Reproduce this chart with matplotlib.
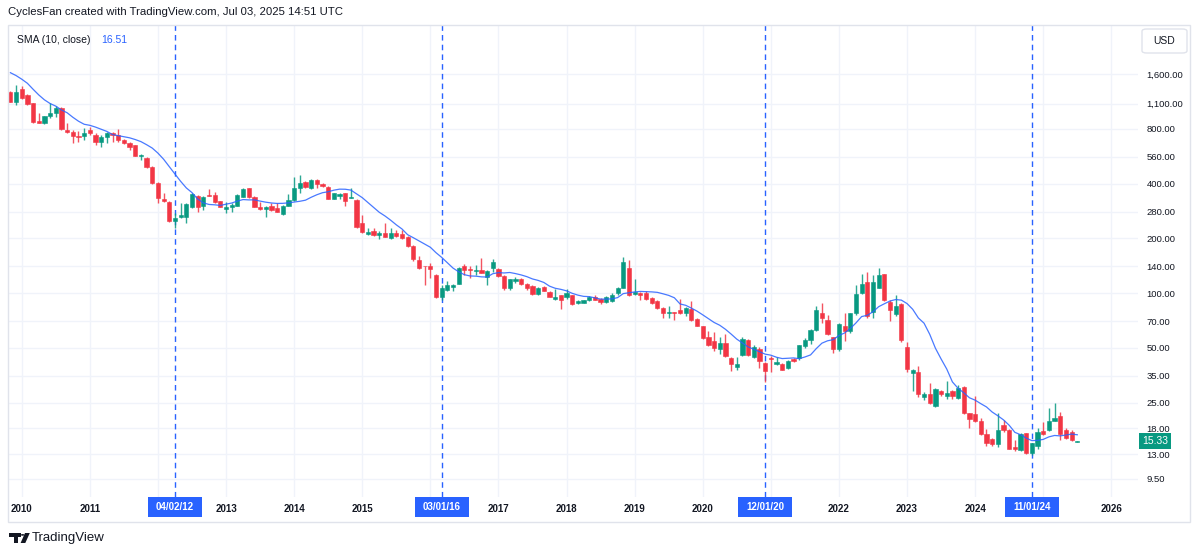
import numpy as np
import pandas as pd
import matplotlib
matplotlib.use('Agg')
import matplotlib.pyplot as plt
from matplotlib.patches import Rectangle, FancyBboxPatch, Polygon, Circle
from matplotlib.ticker import NullLocator
from matplotlib.transforms import blended_transform_factory

plt.rcParams['font.family'] = ['Liberation Sans', 'DejaVu Sans']

# monthly candles, Nov 2009 .. Jul 2025
months = pd.period_range('2009-11', '2025-07', freq='M')

opens = [1279, 1127, 1323, 1226, 1103, 882, 857, 944, 980, 1036,
         788, 771, 733, 730, 788, 741, 679, 718, 760, 741,
         698, 671, 651, 567, 552, 495, 404, 330, 318, 249,
         263, 261, 296, 342, 302, 346, 346, 320, 290, 298,
         302, 339, 376, 339, 298, 289, 302, 292, 272, 302,
         325, 376, 406, 376, 419, 398, 384, 329, 342, 353,
         333, 325, 243, 211, 220, 209, 215, 200, 215, 211,
         203, 181, 151, 141, 140, 125, 95.6, 104.5, 108, 112,
         140, 136, 132, 133, 123, 137.7, 136, 124.5, 106.6, 117,
         119, 112, 109, 98.5, 108, 101.6, 92.4, 97.5, 95.6, 97.5,
         88, 88, 91, 94.5, 93, 89, 90, 99.5, 107, 137.7,
         99, 100, 100, 94, 90.6, 82.5, 77.3, 78.7, 80.8, 77.3,
         81.4, 72, 65.8, 57.2, 54.3, 49.1, 53.2, 43.8, 39.3, 45.7,
         55.3, 44.7, 49.5, 41.3, 44, 40.7, 40.8, 38.8, 43.5, 43.7,
         51.3, 54.9, 62.9, 78, 70.8, 57.2, 49.1, 66, 61.6, 77.3,
         100, 114.5, 78.3, 107, 126.5, 89.8, 76.3, 86.8, 50.7, 36.4,
         36.8, 26.9, 27.8, 23.9, 29, 27.1, 29, 26.6, 30.4, 21.8,
         21.7, 19.9, 16.8, 15.7, 14.8, 18.7, 17.6, 14.2, 13.7, 16.9,
         13.2, 14.4, 17.5, 17.7, 19.9, 21.0, 17.6, 17.2, 15.2]

highs = [1293, 1392, 1376, 1240, 1110, 980, 945, 1113, 1067, 1060,
         865, 788, 781, 805, 814, 760, 741, 771, 771, 795,
         705, 679, 655, 578, 556, 500, 409, 356, 322, 275,
         314, 314, 355, 345, 340, 372, 361, 322, 318, 314,
         350, 378, 380, 342, 318, 300, 314, 314, 305, 349,
         436, 444, 415, 422, 422, 404, 390, 355, 353, 355,
         376, 330, 269, 227, 227, 220, 244, 227, 222, 222,
         206, 183, 160, 141, 146, 128, 111, 116.6, 112.5, 139,
         144, 140, 142.5, 155, 134, 153, 138, 126, 120, 123,
         121, 113, 110, 108, 109, 103, 105.5, 98, 105.5, 98,
         92, 92, 96, 97, 94, 96, 100, 108, 158.5, 152,
         118.8, 101, 102, 95, 92, 83.5, 85.2, 79, 92.8, 83.5,
         90, 73, 66, 61.6, 61, 57.3, 59.2, 44.5, 44.7, 57,
         56, 51.5, 50.5, 42, 45.3, 44.7, 41, 43, 44, 52,
         56.8, 63.5, 84.6, 88.4, 76, 57.5, 68.5, 78, 78, 111,
         126.5, 130, 125, 137, 127, 91, 97.5, 88, 53.6, 38,
         39.9, 28.5, 31.9, 30, 29.3, 32.9, 29.3, 31.3, 31, 22,
         27.2, 20.5, 17.9, 16, 21.8, 20.0, 17.8, 15.5, 17, 17,
         15, 18.1, 19.6, 23.4, 24.9, 22.2, 18, 17.6, 15.4]

lows = [1120, 1081, 1170, 1080, 860, 857, 850, 913, 925, 790,
        760, 666, 679, 698, 741, 651, 638, 671, 679, 679,
        660, 611, 565, 538, 485, 400, 314, 318, 247, 227,
        259, 242, 292, 280, 286, 340, 314, 296, 276, 280,
        300, 336, 334, 296, 286, 263, 284, 278, 269, 300,
        322, 356, 378, 374, 376, 383, 327, 327, 328, 302,
        333, 228, 215, 209, 206, 197, 203, 198, 203, 198,
        180, 150, 135, 111, 121, 94, 92, 103, 103, 112,
        125, 121, 125, 129, 110, 131, 123, 104, 104, 113,
        111, 104, 97, 97, 102, 95, 91, 81.4, 93, 86,
        87, 88, 90, 91, 87, 88, 89, 98, 106, 96,
        98, 91, 92, 87, 82, 72.6, 72.6, 70.8, 77, 74.5,
        70.5, 65.5, 56, 51, 48, 46, 44.5, 37.2, 37.9, 45,
        45, 44, 38.8, 32.3, 36.7, 40, 37.5, 38, 41.5, 43,
        50, 52.7, 62, 68.6, 59, 46.8, 48, 54.3, 60, 76,
        99, 72.6, 72.6, 106, 90, 70, 75, 54, 36.9, 28.9,
        26.8, 25.9, 24.5, 23.5, 27, 26.3, 26, 26, 21.5, 18.2,
        19.5, 16.5, 14.5, 14.4, 14.3, 17.3, 13.8, 13.6, 13.5, 13,
        12.9, 13.9, 16.5, 17.5, 19.8, 15.5, 15.8, 15.4, 15.1]

closes = [1127, 1270, 1177, 1089, 868, 865, 940, 973, 1044, 798,
          771, 730, 724, 755, 755, 679, 718, 760, 741, 698,
          666, 638, 569, 574, 495, 404, 332, 322, 249, 260,
          269, 309, 350, 296, 339, 342, 318, 298, 298, 305,
          346, 372, 336, 298, 289, 298, 286, 280, 302, 325,
          379, 401, 381, 419, 398, 389, 329, 353, 350, 321,
          339, 231, 216, 217, 209, 214, 203, 215, 206, 200,
          181, 153, 137, 140, 136, 95, 107, 111, 111, 137,
          134, 133, 134, 129, 132.9, 147.8, 124.5, 105.9, 118.8, 119,
          112.5, 106, 98.6, 107, 103, 95.6, 95.6, 91.3, 99.5, 87,
          90, 91, 95.3, 91.5, 89, 95.6, 98, 106.6, 148.6, 97.5,
          100.7, 97.5, 92.9, 88, 83, 77.3, 78.3, 77.8, 77.8, 82.5,
          71, 66.1, 56.8, 51.8, 49.6, 53.2, 45.3, 40.7, 40.8, 55.7,
          45.7, 50.6, 42.5, 37.2, 43.5, 41.5, 37.9, 42.5, 42.5, 51.8,
          54.9, 62.5, 80.2, 72.6, 59.8, 49.3, 67.7, 61.7, 77.3, 98.6,
          112.5, 74.6, 114.5, 125, 91.3, 80.5, 84.6, 55.1, 38.2, 37.5,
          27.8, 28.0, 24.9, 29.5, 28, 28.3, 27.1, 29.9, 21.8, 20.2,
          19.9, 16.8, 14.9, 14.8, 17.7, 17.6, 13.95, 13.8, 16.7, 13.2,
          14.9, 17.3, 16.8, 19.9, 20.6, 16.7, 15.9, 15.6, 15.33]

# closes before Nov 2009, only needed to warm up the SMA
pre_closes = [1850, 1880, 1850, 1900, 1780, 1680, 1500, 1400, 1300]

price_ticks = [1600, 1100, 800, 560, 400, 280, 200, 140, 100, 70, 50, 35, 25, 18, 13, 9.5]
years = list(range(2010, 2027))
hidden_years = [2012, 2016, 2021, 2025]
marks = [('2012-04', '04/02/12'), ('2016-03', '03/01/16'),
         ('2020-12', '12/01/20'), ('2024-11', '11/01/24')]

GREEN = '#089981'
RED = '#f23645'
BLUE = '#2962ff'
TXT = '#131722'
GRID = '#f0f3fa'

W, H = 1200, 555


def fx(px):
    return px / W


def fy(py):
    return 1 - py / H


fig = plt.figure(figsize=(W / 100, H / 100), dpi=100)
fig.patch.set_facecolor('white')

ax = fig.add_axes([fx(8), fy(497), fx(1138) - fx(8), fy(25) - fy(497)])
ax.set_facecolor('white')

o = np.array(opens, dtype=float)
h = np.array(highs, dtype=float)
l = np.array(lows, dtype=float)
c = np.array(closes, dtype=float)
idx = np.arange(len(months))
up = c >= o
cols = np.where(up, GREEN, RED)

ax.vlines(idx, l, h, colors=cols, lw=1, alpha=0.85, zorder=3)
ax.bar(idx, np.abs(c - o), bottom=np.minimum(o, c), width=0.74,
       color=cols, edgecolor=cols, lw=0.4, zorder=4)

allc = pd.Series(pre_closes + closes, dtype=float)
sma = allc.rolling(10).mean().values[len(pre_closes):]
ax.plot(idx, sma, color=BLUE, lw=0.9, alpha=0.85, zorder=5)

ax.set_yscale('log')
ax.set_ylim(7.56, 2975)
ax.set_xlim(-0.42, 198.7)

ax.yaxis.tick_right()
ax.set_yticks(price_ticks)
ax.set_yticklabels([f'{v:,.2f}' for v in price_ticks])
ax.yaxis.set_minor_locator(NullLocator())

year_idx = [(y - 2009) * 12 - 10 for y in years]
ax.set_xticks(year_idx)
ax.set_xticklabels(['' if y in hidden_years else str(y) for y in years],
                   fontweight='bold')
ax.tick_params(axis='y', length=0, pad=6, labelsize=6.8, labelcolor=TXT)
ax.tick_params(axis='x', length=0, pad=5, labelsize=7, labelcolor=TXT)
ax.grid(True, color=GRID, lw=1, zorder=0)
ax.set_axisbelow(True)
for s in ax.spines.values():
    s.set_visible(False)

# vertical dated markers
trans = blended_transform_factory(ax.transData, ax.transAxes)
box_h = 20 / 472
for per, lab in marks:
    i = months.get_loc(pd.Period(per, 'M'))
    ax.axvline(i, color=BLUE, lw=1, ls=(0, (4, 3)), zorder=2)
    ax.add_patch(Rectangle((i - 4.75, -box_h), 9.5, box_h, transform=trans,
                           facecolor=BLUE, edgecolor='none', clip_on=False, zorder=6))
    ax.text(i, -box_h / 2, lab, transform=trans, ha='center', va='center',
            color='white', fontsize=7, fontweight='bold', zorder=7, clip_on=False)

# last price label
ax.annotate(f'{closes[-1]:.2f}', xy=(1.0, closes[-1]),
            xycoords=('axes fraction', 'data'), xytext=(3, 0),
            textcoords='offset points', ha='left', va='center', color='white',
            fontsize=7.5, annotation_clip=False,
            bbox=dict(boxstyle='square,pad=0.3', fc=GREEN, ec='none'))

# frame around the chart
fig.patches.append(Rectangle((fx(8), fy(522)), fx(1190) - fx(8), fy(25) - fy(522),
                             transform=fig.transFigure, fill=False,
                             edgecolor='#e0e3eb', lw=1))

# USD box
fig.patches.append(FancyBboxPatch((fx(1142), fy(53)), fx(45), 24 / H,
                                  boxstyle='round,pad=0,rounding_size=0.004',
                                  transform=fig.transFigure, facecolor='white',
                                  edgecolor='#e0e3eb', lw=1))
fig.text(fx(1164.5), fy(41), 'USD', ha='center', va='center', fontsize=7.5, color=TXT)

# header texts
fig.text(fx(8), fy(12), 'CyclesFan created with TradingView.com, Jul 03, 2025 14:51 UTC',
         ha='left', va='center', fontsize=8.2, color=TXT)
fig.text(fx(17), fy(40), 'SMA (10, close)', ha='left', va='center', fontsize=7.5, color=TXT)
fig.text(fx(101.5), fy(40), '16.51', ha='left', va='center', fontsize=7.5, color=BLUE)

# TradingView logo
def P(x, y):
    return (fx(x), fy(y))


fig.patches.append(Polygon([P(9, 533), P(20.5, 533), P(20.5, 536.5), P(18.3, 536.5),
                            P(18.3, 543), P(14.3, 543), P(14.3, 536.5), P(9, 536.5)],
                           closed=True, transform=fig.transFigure, facecolor=TXT))
fig.patches.append(Circle(P(22.6, 534.9), 1.8 / W, transform=fig.transFigure, facecolor=TXT))
fig.patches.append(Polygon([P(25, 533), P(29.8, 533), P(25.3, 543), P(20.6, 543)],
                           closed=True, transform=fig.transFigure, facecolor=TXT))
fig.text(fx(32), fy(538), 'TradingView', ha='left', va='center', fontsize=9.5, color=TXT)

fig.savefig('out.png', dpi=100, facecolor='white')
